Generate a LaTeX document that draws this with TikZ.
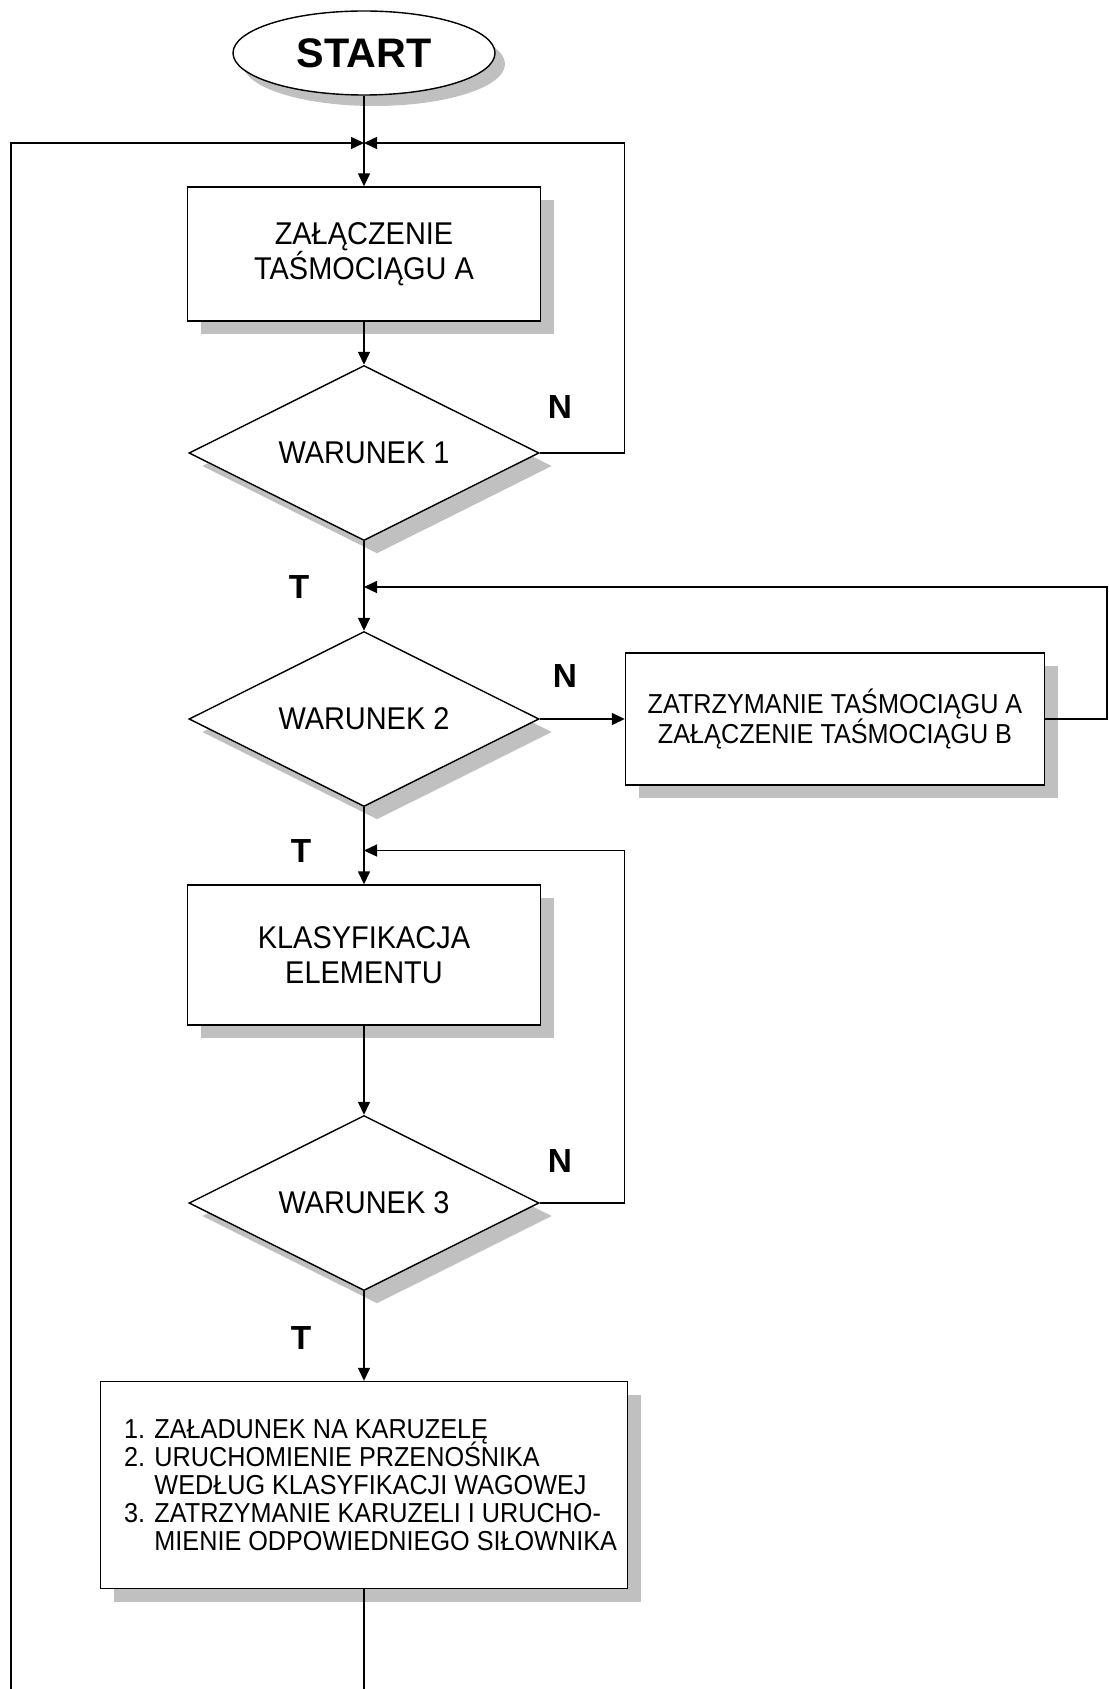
\documentclass[tikz,border=0pt]{standalone}
\usepackage{fontspec}
\setmainfont{Liberation Sans}[UprightFeatures={FakeStretch=0.92}]
\usetikzlibrary{shapes.geometric,arrows.meta,shadows}
\definecolor{shadowgray}{HTML}{C0C0C0}
\lineskiplimit=-10pt

\begin{document}
\begin{tikzpicture}[line width=0.8pt, >={Triangle[length=0.26cm,width=0.24cm]},
    shadowed/.style={drop shadow={shadow xshift=0.26cm, shadow yshift=-0.26cm, fill=shadowgray, opacity=1}},
    box/.style={draw, fill=white, shadowed, align=center, inner sep=0pt, font=\fontsize{17.9}{19.6}\selectfont},
    decision/.style={draw, fill=white, shadowed, diamond, aspect=2, inner sep=0pt, minimum width=7cm,
      minimum height=3.5cm, font=\fontsize{17.9}{19.6}\selectfont},
    lbl/.style={font=\fontsize{19}{22}\bfseries\selectfont}]
  \useasboundingbox (0,0) rectangle (22.18,-33.78);
  \node[draw, fill=white, ellipse, inner sep=0pt, minimum width=5.24cm, minimum height=1.68cm,
    drop shadow={shadow xshift=0.2cm, shadow yshift=-0.22cm, fill=shadowgray, opacity=1},
    font=\fontsize{23.5}{26}\bfseries\selectfont] (start) at (7.28,-1.06) {START};
  \coordinate (j1) at (7.28,-2.86);
  \node[box, minimum width=7.06cm, minimum height=2.68cm] (tasmA) at (7.28,-5.08) {ZAŁĄCZENIE\\TAŚMOCIĄGU A};
  \node[decision] (war1) at (7.28,-9.06) {WARUNEK 1};
  \coordinate (j2) at (7.28,-11.74);
  \node[decision] (war2) at (7.28,-14.38) {WARUNEK 2};
  \node[box, minimum width=8.38cm, minimum height=2.64cm, font=\fontsize{15.6}{17}\selectfont] (stopA) at (16.70,-14.38)
    {ZATRZYMANIE TAŚMOCIĄGU A\\ZAŁĄCZENIE TAŚMOCIĄGU B};
  \coordinate (j3) at (7.28,-17.01);
  \node[box, minimum width=7.06cm, minimum height=2.8cm] (klas) at (7.28,-19.1) {KLASYFIKACJA\\ELEMENTU};
  \node[decision] (war3) at (7.28,-24.06) {WARUNEK 3};
  \node[box, minimum width=10.54cm, minimum height=4.14cm, align=left,
    font=\fontsize{15.6}{15.9}\selectfont] (karuz) at (7.28,-29.7)
    {\hspace*{0.26cm}1. ZAŁADUNEK NA KARUZELĘ\\
     \hspace*{0.26cm}2. URUCHOMIENIE PRZENOŚNIKA\\
     \hspace*{0.26cm}\hphantom{2. }WEDŁUG KLASYFIKACJI WAGOWEJ\\
     \hspace*{0.26cm}3. ZATRZYMANIE KARUZELI I URUCHO-\\
     \hspace*{0.26cm}\hphantom{3. }MIENIE ODPOWIEDNIEGO SIŁOWNIKA};
  \coordinate (loop1) at (12.49,-2.86);
  \coordinate (loop3) at (12.49,-17.01);
  \coordinate (rt) at (22.14,-11.74);
  \coordinate (lb) at (0.22,-33.78);
  \coordinate (bb) at (7.28,-33.78);
  \node[lbl] (n1) at (11.2,-8.14) {N};
  \node[lbl] (t1) at (5.98,-11.74) {T};
  \node[lbl] (n2) at (11.3,-13.52) {N};
  \node[lbl] (t2) at (6.02,-17.02) {T};
  \node[lbl] (n3) at (11.2,-23.22) {N};
  \node[lbl] (t3) at (6.02,-26.76) {T};
  \draw[->] (start) -- (tasmA);
  \draw[->] (lb) |- (j1);
  \draw[->] (war1.east) -| (loop1) -- (j1);
  \draw[->] (tasmA) -- (war1);
  \draw[->] (war1) -- (war2);
  \draw[->] (war2) -- (stopA);
  \draw[->] (stopA) -| (rt) -- (j2);
  \draw[->] (war2) -- (klas);
  \draw[->] (klas) -- (war3);
  \draw[->] (war3.east) -| (loop3) -- (j3);
  \draw[->] (war3) -- (karuz);
  \draw (karuz) -- (bb);
\end{tikzpicture}
\end{document}
